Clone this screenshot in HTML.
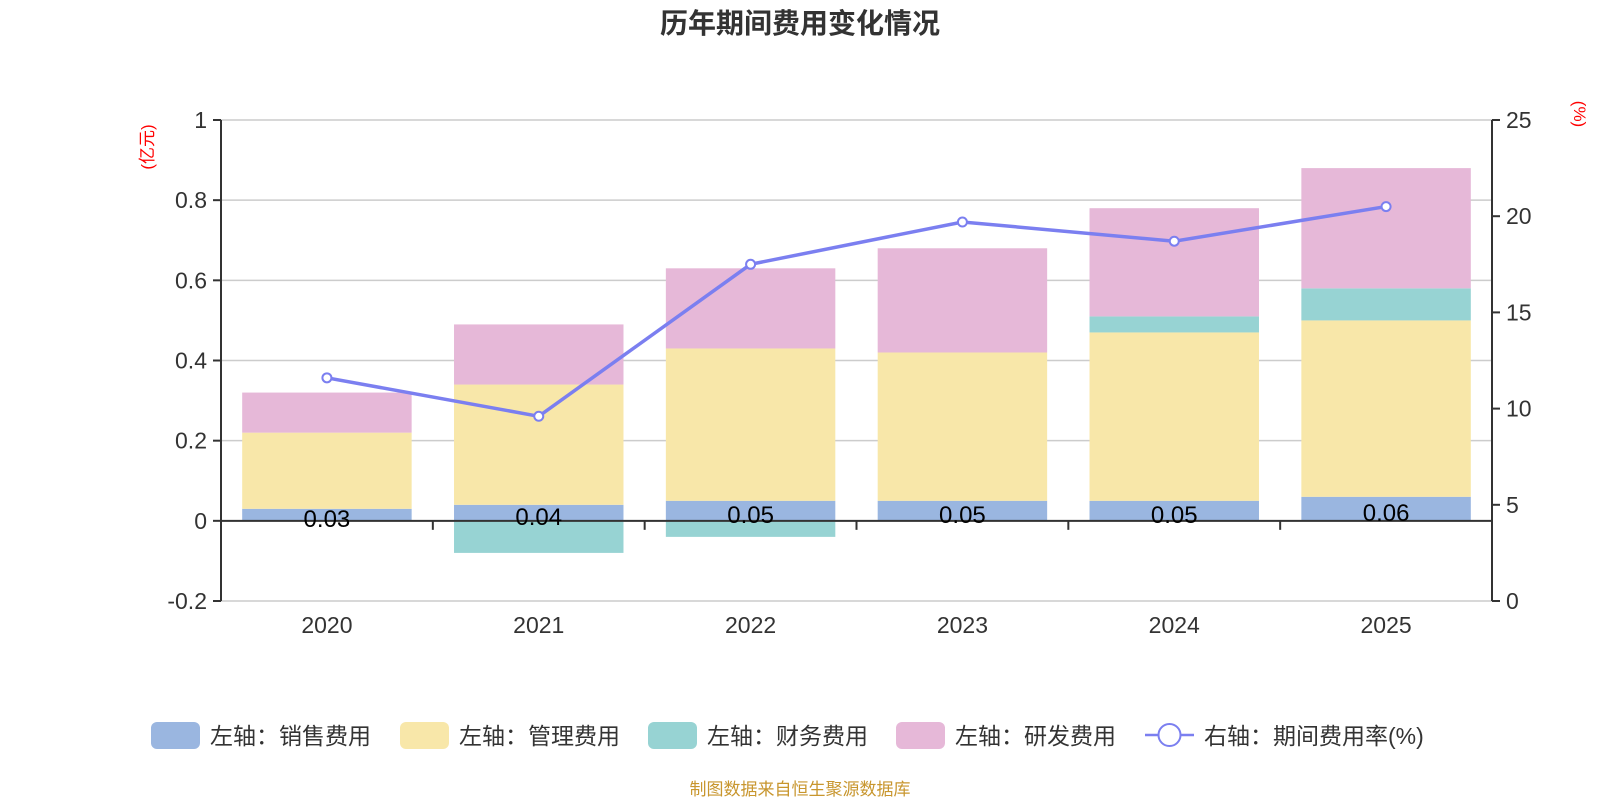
<!DOCTYPE html>
<html><head><meta charset="utf-8">
<style>
body{margin:0;background:#fff;width:1600px;height:800px;overflow:hidden;font-family:"Liberation Sans","Noto Sans CJK SC",sans-serif;}
svg text{font-family:"Liberation Sans","Noto Sans CJK SC",sans-serif;}
</style></head>
<body>
<svg id="chart" width="1600" height="800" xmlns="http://www.w3.org/2000/svg">
<text x="800" y="33" text-anchor="middle" font-size="28" font-weight="bold" fill="#333">历年期间费用变化情况</text>
<text transform="translate(153,147) rotate(-90)" text-anchor="middle" font-size="17" fill="#f00">(亿元)</text>
<text transform="translate(1574,114) rotate(90)" text-anchor="middle" font-size="17" fill="#f00">(%)</text>
<g id="grid"></g><g id="bars"></g><g id="axes"></g><g id="line"></g><g id="labels"></g>
<g id="legend"></g>
<text x="800" y="795" text-anchor="middle" font-size="17" fill="#c8962e">制图数据来自恒生聚源数据库</text>
</svg>
<script>
const categories=["2020","2021","2022","2023","2024","2025"];
const sales=[0.03,0.04,0.05,0.05,0.05,0.06];
const mgmt=[0.19,0.30,0.38,0.37,0.42,0.44];
const finance=[0,-0.08,-0.04,0,0.04,0.08];
const rnd=[0.10,0.15,0.20,0.26,0.27,0.30];
const rate=[11.6,9.6,17.5,19.7,18.7,20.5];
const leftTicks=[-0.2,0,0.2,0.4,0.6,0.8,1];
const rightTicks=[0,5,10,15,20,25];
const salesLabels=["0.03","0.04","0.05","0.05","0.05","0.06"];

const NS="http://www.w3.org/2000/svg";
const X0=221,X1=1492,YT=120,YB=601;
const yL=v=>YB-(v+0.2)/1.2*(YB-YT);
const yR=v=>YB-v/25*(YB-YT);
const band=(X1-X0)/categories.length;
const xC=i=>X0+band*(i+0.5);
const bw=band*0.8;
function el(tag,attrs,parent,text){const e=document.createElementNS(NS,tag);for(const k in attrs)e.setAttribute(k,attrs[k]);if(text!==undefined)e.textContent=text;document.getElementById(parent).appendChild(e);return e;}

leftTicks.forEach(t=>{
  const g=el('line',{x1:X0,x2:X1,y1:yL(t),y2:yL(t),stroke:'#ccc','stroke-width':1.5},'grid');
  
  
  const tk=el('line',{x1:X0-8,x2:X0,y1:yL(t),y2:yL(t),stroke:'#333','stroke-width':2},'axes');
  
  
  const lb=el('text',{x:X0-14,y:yL(t)+8,'text-anchor':'end','font-size':23,fill:'#333'},'axes',String(t));
  
  
});
rightTicks.forEach(t=>{
  const tk=el('line',{x1:X1,x2:X1+8,y1:yR(t),y2:yR(t),stroke:'#333','stroke-width':2},'axes');
  
  
  const lb=el('text',{x:X1+14,y:yR(t)+8,'font-size':23,fill:'#333'},'axes',String(t));
  
  
});
const series=[[sales,'#9ab6e0','sales'],[mgmt,'#f8e7a9','management'],[finance,'#97d3d3','finance'],[rnd,'#e6b8d8','rnd']];
categories.forEach((c,i)=>{
  let pos=0,neg=0;
  series.forEach(([arr,col,nm])=>{
    const v=arr[i]; if(!v)return;
    let a,b;
    if(v>=0){a=pos;b=pos+v;pos=b;}else{a=neg;b=neg+v;neg=b;}
    const r=el('rect',{x:xC(i)-bw/2,y:Math.min(yL(a),yL(b)),width:bw,height:Math.abs(yL(a)-yL(b)),fill:col},'bars');
    
    
  });
  const lb=el('text',{x:xC(i),y:(yL(0)+yL(sales[i]))/2+12,'text-anchor':'middle','font-size':24,fill:'#000'},'labels',salesLabels[i]);
  
  
  const xl=el('text',{x:xC(i),y:633,'text-anchor':'middle','font-size':23,fill:'#333'},'axes',c);
  
  
});
for(let i=1;i<categories.length;i++){
  const t=el('line',{x1:X0+band*i,x2:X0+band*i,y1:yL(0),y2:yL(0)+9,stroke:'#333','stroke-width':2},'axes');
  
  
}
const ax1=el('line',{x1:X0,x2:X0,y1:YT,y2:YB,stroke:'#333','stroke-width':2},'axes');


const ax2=el('line',{x1:X1,x2:X1,y1:YT,y2:YB,stroke:'#333','stroke-width':2},'axes');


const ax3=el('line',{x1:X0,x2:X1,y1:yL(0),y2:yL(0),stroke:'#333','stroke-width':2},'axes');


const pl=el('polyline',{points:rate.map((v,i)=>xC(i)+','+yR(v)).join(' '),fill:'none',stroke:'#7b7ff0','stroke-width':3.5},'line');


rate.forEach((v,i)=>{
  const p=el('circle',{cx:xC(i),cy:yR(v),r:4.5,fill:'#fff',stroke:'#7b7ff0','stroke-width':2},'line');
  
  
});
const leg=[['左轴：销售费用','#9ab6e0',151],['左轴：管理费用','#f8e7a9',400],['左轴：财务费用','#97d3d3',648],['左轴：研发费用','#e6b8d8',896]];
leg.forEach(([t,col,x])=>{
  const r=el('rect',{x:x,y:722,width:49,height:27,rx:6,fill:col},'legend');
  
  
  const tx=el('text',{x:x+59,y:744,'font-size':23,fill:'#333'},'legend',t);
  
  
});
const ll=el('line',{x1:1145,x2:1194,y1:735,y2:735,stroke:'#7b7ff0','stroke-width':2.5},'legend');


const lc=el('circle',{cx:1169.5,cy:735,r:11,fill:'#fff',stroke:'#7b7ff0','stroke-width':2},'legend');


const lt=el('text',{x:1204,y:744,'font-size':23,fill:'#333'},'legend','右轴：期间费用率(%)');


</script>
</body></html>
